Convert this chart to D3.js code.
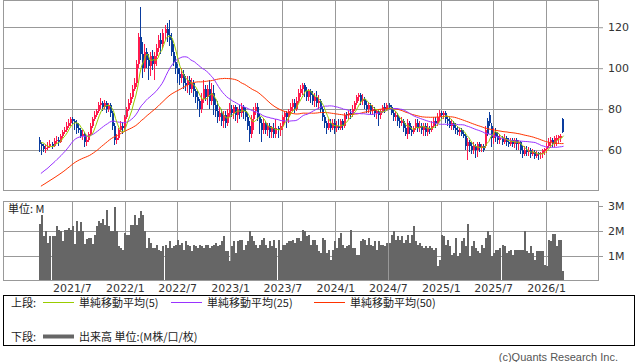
<!DOCTYPE html>
<html><head><meta charset="utf-8">
<script src="https://cdn.jsdelivr.net/npm/d3@7"></script>
<style>body{margin:0;background:#fff}svg{display:block}</style>
</head><body>
<svg id="c" width="638" height="362"></svg>
<script>
// ---- data (weekly candles, first week ending 2021-03-12) ----
const firstWeek = "2021-03-12";
// closes of the 49 weeks before the first candle (only used for moving averages)
const priorClose = [30,31,29,30,32,31,33,32,31,33,34,33,32,34,35,34,
  38,41,43,44,45,46,44,45,43,
  42,41,43,40,39,41,42,40,41,43,42,44,43,42,41,43,
  50,56,60,63,62,64,65,64];
const open = [65,63,62,60.5,61,62,63,62,64.5,65, 64,67,69,70,72,73,75,74,73,71,
 70,67,68,64,65,68,72,75,77,79, 82,83,81,83,80,82,78,72,65,66,
 70,72,71,76,80,83,86,90,93,102, 115,107,100,108,104,101,106,102,106,110,
 114,112,117,119,116,114,108,103,100,97, 95,97,93,92,94,90,93,89,86,84,
 80,85,90,86,90,84,88,82,79,76, 78,74,77,73,78,80,78,81,77,80,
 78,81,79,76,72,68,75,79,81,76, 73,70,73,70,72,69,71,68,71,70,
 72,76,78,76,79,81,83,80,84,88, 90,92,89,86,89,87,84,86,83,84,
 80,76,73,71,73,71,73,71,72,71, 74,72,77.5,77,78,77,80,83,86,87,
 84,85,82,80,82,79,80,78,79,77, 79,81,80,82,81,78,76,77,74,73,
 74,71,68,73,70,69,71,73,71,72, 70,72,69,71,70,72,74,73,76,78,
 77,78,75,74,72,73,71,70,69,70, 68,67,62,64,62,60,62,60,63,61,
 62,62,74,77,72,66,69,67,65,66, 64,66,64,63,65,63,65,63,64,60,
 58,60,59,60,58,59,57,58.5,58,58.5, 59.5,60.5,62,64,65,63,65,66,66,75];
const high = [66.5,64,63,62.5,64,65,64,66,67,66.5, 68,70,71.5,73.5,75,76,76,75,74.6,73,
 71,70,69,67,69,73,76,79,80,83.5, 85.4,84,84.5,84,83,83,79,73,68,71,
 74,73.5,77,81,85,88,92,95,104,117, 130,113,112,110,107,108,109,108,112,116,
 117,119,121,122,123.4,117,112,106,102,100, 100,99,96,96,96,95,94,90,89,85,
 88,94,92,92,94,93,92,85,84,81, 80,79,79,80,83,82,82,82,81,82,
 83,82,81,78,74,77,81,83,83,78, 75,75,74,73,73,72,73,75,72,73,
 77,79,79,80,83,85,85,86,90,92, 93,93,91,90,90,89,88,89,87,85,
 81,77,74,75,75,75,75,74,75,75, 75,78,78.5,79,80,82,84,87,88,88,
 87.5,86,84,83,83,82,81,80,80,80, 82,83,83,83,82,80,79,78,76,76,
 75,73,75,74,72,72,75,75,74,73, 73,73,73,72,74,76,76,78,79.5,79,
 79,79,76,76,75,74,73,72,71,71, 70,68,66,65,64,64,63,64,64,63,
 63,72,75.6,78.5,73,71,71,69,68,67, 68,67,66,66,66,66,66,65,64.5,62,
 62,62,61.5,61,60.5,60,59.5,59,59,60.5, 61,63.4,66,66.5,66,67,67.5,67.5,68,75.8];
const low = [59,57.6,59,58.5,60,61,60.5,61.5,63,62, 63.5,66,68,69,71,72,72.5,70,68,68.5,
 66,65,61.5,62,64,67,71,74,76,78, 80,79,80,78,78.5,76,70,62.4,63,65,
 69,68,70,75,79,82,85,89,91,100, 104,95,98,100,94,96,99,94,101,108,
 107,110,114,113,111,106,101,97,93,92, 93,90,89,88,87,88,86,83,80,76,
 78,83,84,82,80,82,77,76,73,74, 72,71,71,72,76,76,75,74,73,75,
 76,75,74,70,64,66,70,77,74,68, 64,68,68,67,66,66,66,66,66,67,
 70,73,71,73,77,79,78,79,83,86, 87,86,84,84,83,82,81,81,80,78,
 74,71,68,70,69,70,68,69,70,70, 70,71,75,75,75,76,79,82,84,82,
 82,80,78,78,77,77,76,75,72,75, 78,78,79,80,77,74,74,72,71,72,
 69,67,65.5,68,67,68,70,69,69,68, 67,67,67,68,69,71,71,72,74,75,
 75,73,72,71,70,70,68,67.5,67,67, 66,60,55,59,58,58,56,56.6,59,59,
 59,61,67,72,61.5,63,64,63,63,62.4, 63,62,61.5,62,61.5,61,60,60,58,56,
 57,57,57,56,57,55.5,56,55,55.5,56, 57.6,58.5,61,61,61.5,61.5,62,63,64,68.5];
const close = [63,62,60.5,61,62,63,62,64.5,65,64, 67,69,70,72,73,75,74,73,71,70,
 67,68,64,65,68,72,75,77,79,82, 83,81,83,80,82,78,72,65,66,70,
 72,71,76,80,83,86,90,93,102,115, 107,100,108,104,101,106,102,106,110,114,
 112,117,119,116,114,108,103,100,97,95, 97,93,92,94,90,93,89,86,84,80,
 85,90,86,90,84,88,82,79,76,78, 74,77,73,78,80,78,81,77,80,78,
 81,79,76,72,68,75,79,81,76,73, 70,73,70,72,69,71,68,71,70,72,
 76,78,76,79,81,83,80,84,88,90, 92,89,86,89,87,84,86,83,84,80,
 76,73,71,73,71,73,71,72,71,74, 72,77,77,78,77,80,83,86,87,84,
 85,82,80,82,79,80,78,79,77,79, 81,80,82,81,78,76,77,74,73,74,
 71,68,73,70,69,71,73,71,72,70, 72,69,71,70,72,74,73,76,78,77,
 78,75,74,72,73,71,70,69,70,68, 67,62,64,62,60,62,60,63,61,62,
 60,70,68,73,66,69,67,65,66,64, 66,64,63,65,63,65,63,64,60,58,
 60,59,60,58,59,57,58,58,58.5,60, 60.5,62,64,65,63,66,66,67,67,69];
const volume = [2.28,2.65,1.79,2.0,1.52,1.79,1.79,1.79,2.19,2.05,
 2.0,1.59,2.05,2.05,2.12,2.05,2.19,1.48,2.39,2.0,
 2.36,2.0,1.48,1.69,1.72,1.72,1.48,1.85,2.19,2.39,
 2.32,2.48,2.25,2.84,2.19,2.0,2.0,2.95,2.0,1.39,
 1.32,1.25,1.92,1.85,1.85,2.25,2.25,2.65,2.25,2.52,
 2.79,2.65,2.0,1.32,1.72,1.52,1.32,1.32,1.45,1.25,
 1.19,1.39,1.45,1.32,1.59,1.32,1.39,1.45,1.65,1.45,
 1.52,1.25,1.59,1.45,1.39,1.19,1.45,1.39,1.32,1.45,
 1.39,1.32,1.45,1.45,1.32,1.39,1.45,1.52,1.39,1.45,
 1.59,1.79,1.19,1.19,0.79,1.39,1.59,1.12,1.59,1.65,
 1.65,1.25,1.45,1.59,2.0,1.79,1.59,1.45,1.32,1.45,
 1.65,1.72,1.45,1.32,1.59,1.39,1.65,1.32,1.65,1.25,
 1.45,1.45,1.52,1.59,1.59,1.65,1.52,1.72,1.72,1.59,
 2.05,2.0,1.79,1.85,1.45,1.65,1.65,1.45,1.19,1.12,
 1.72,1.65,1.12,1.25,0.85,1.25,1.59,1.32,1.72,1.92,
 1.45,1.32,1.39,1.45,2.05,1.32,1.32,1.05,1.05,1.59,
 1.69,1.65,1.45,1.72,1.45,1.39,1.59,1.25,1.59,1.45,
 1.45,1.39,1.52,1.52,1.85,2.0,1.65,1.79,1.65,1.79,
 1.52,1.65,1.85,1.52,1.85,2.19,1.59,1.45,1.52,1.39,
 1.32,1.39,1.32,1.39,1.32,1.25,1.32,0.59,0.85,1.85,
 1.79,1.45,1.65,1.39,1.05,1.12,1.72,0.99,1.12,1.59,
 1.72,1.39,2.28,0.99,1.39,1.59,1.32,1.19,1.12,1.45,
 1.32,1.72,2.0,1.85,0.99,1.12,1.25,1.25,1.32,1.45,
 1.39,1.12,1.19,1.25,1.05,1.25,1.25,1.25,1.25,1.25,
 2.0,1.19,1.12,1.39,1.12,0.85,1.19,1.19,1.19,1.19,
 0.65,0.59,1.65,1.59,1.88,1.88,1.39,1.65,1.65,0.41];
const priceTicks = [60, 80, 100, 120];
const volumeTicks = [1, 2, 3];
const monthTicks = ["2021-07-01","2022-01-01","2022-07-01","2023-01-01","2023-07-01",
  "2024-01-01","2024-07-01","2025-01-01","2025-07-01","2026-01-01"];
const monthLabels = ["2021/7","2022/1","2022/7","2023/1","2023/7","2024/1","2024/7","2025/1","2025/7","2026/1"];
const maPeriods = [5, 25, 50];
const maColors = ["#99cc00", "#9933ff", "#ff3300"];
const legendTop = ["単純移動平均(5)", "単純移動平均(25)", "単純移動平均(50)"];

// ---- layout ----
const parse = d3.timeParse("%Y-%m-%d");
const svg = d3.select("#c");
const L = 3, R = 598, pT = 0, pB = 190, vT = 201, vB = 281;
const numFont = "'DejaVu Sans', Verdana, sans-serif";
const jpFont = "'Noto Sans CJK JP', sans-serif";

const x = d3.scaleTime().domain([parse("2020-11-04"), parse("2026-06-30")]).range([L, R]);
const y = d3.scaleLinear().domain([40.5, 133.3]).range([pB, pT]);
const yv = d3.scaleLinear().domain([0, 3.2]).range([vB, vT]);

const start = parse(firstWeek);
const dates = close.map((_, i) => d3.timeDay.offset(start, 7 * i));
const data = close.map((c, i) => ({d: dates[i], o: open[i], h: high[i], l: low[i], c, v: volume[i]}));

// grids
const g = svg.append("g").attr("stroke", "#999").attr("stroke-width", 1).attr("shape-rendering", "crispEdges");
monthTicks.forEach(t => {
  const xx = Math.round(x(parse(t))) + 0.5;
  g.append("line").attr("x1", xx).attr("x2", xx).attr("y1", pT).attr("y2", pB);
  g.append("line").attr("x1", xx).attr("x2", xx).attr("y1", vT).attr("y2", vB);
});
priceTicks.forEach(t => {
  const yy = Math.round(y(t)) + 0.5;
  g.append("line").attr("x1", L).attr("x2", R).attr("y1", yy).attr("y2", yy);
});
volumeTicks.filter(t => t < 3).forEach(t => {
  const yy = Math.round(yv(t)) + 0.5;
  g.append("line").attr("x1", L).attr("x2", R).attr("y1", yy).attr("y2", yy);
});

// volume bars
svg.append("g").selectAll("rect").data(data).join("rect")
  .attr("x", d => Math.floor(x(d.d)))
  .attr("width", 2)
  .attr("y", d => Math.round(yv(d.v)))
  .attr("height", d => vB - Math.round(yv(d.v)))
  .attr("fill", "#666")
  .attr("shape-rendering", "crispEdges");

// frames
svg.append("rect").attr("x", L + 0.5).attr("y", pT + 0.5).attr("width", R - L).attr("height", pB - pT)
  .attr("fill", "none").attr("stroke", "#999").attr("shape-rendering", "crispEdges");
svg.append("rect").attr("x", L + 0.5).attr("y", vT + 0.5).attr("width", R - L).attr("height", vB - vT - 1)
  .attr("fill", "none").attr("stroke", "#999").attr("shape-rendering", "crispEdges");

// candles
const up = "#ff1a4d", dn = "#0a3c9e";
const cg = svg.append("g").attr("shape-rendering", "crispEdges");
data.forEach(d => {
  const xx = Math.floor(x(d.d));
  const col = d.c >= d.o ? up : dn;
  cg.append("rect").attr("x", xx).attr("width", 1)
    .attr("y", y(d.h)).attr("height", Math.max(1, y(d.l) - y(d.h))).attr("fill", col);
  const top = y(Math.max(d.o, d.c)), bot = y(Math.min(d.o, d.c));
  cg.append("rect").attr("x", xx).attr("width", 2)
    .attr("y", top).attr("height", Math.max(1, bot - top)).attr("fill", col);
});

// moving averages
const full = priorClose.concat(close);
const off = priorClose.length;
maPeriods.slice().reverse().forEach((p, k) => {
  const idx = maPeriods.length - 1 - k;
  const ma = close.map((_, i) => d3.mean(full.slice(off + i - p + 1, off + i + 1)));
  const line = d3.line().x((_, i) => x(dates[i]) + 1).y(v => y(v));
  svg.append("path").attr("d", line(ma)).attr("fill", "none")
    .attr("stroke", maColors[idx]).attr("stroke-width", 1);
});

// axes
const ax = svg.append("g").attr("transform", `translate(0,${vB})`)
  .call(d3.axisBottom(x).tickValues(monthTicks.map(parse)).tickFormat((d, i) => monthLabels[i]).tickSize(0).tickPadding(3));
ax.select(".domain").remove();
ax.selectAll("text").attr("font-family", numFont).attr("font-size", 11).attr("fill", "#333");

const ay = svg.append("g").attr("transform", `translate(${R},0)`)
  .call(d3.axisRight(y).tickValues(priceTicks).tickSize(5).tickPadding(5));
const av = svg.append("g").attr("transform", `translate(${R},0)`)
  .call(d3.axisRight(yv).tickValues(volumeTicks).tickFormat(d => d + "M").tickSize(5).tickPadding(5));
[ay, av].forEach(a => {
  a.select(".domain").remove();
  a.selectAll("line").attr("stroke", "#999");
  a.selectAll("text").attr("font-family", numFont).attr("font-size", 11).attr("fill", "#333");
});

svg.append("text").attr("x", 8).attr("y", 213).text("単位: M")
  .attr("font-family", jpFont).attr("font-size", 11).attr("fill", "#222");

// legend
svg.append("rect").attr("x", 3.5).attr("y", 295.5).attr("width", 631).attr("height", 50)
  .attr("fill", "none").attr("stroke", "#000").attr("shape-rendering", "crispEdges");
const lg = svg.append("g").attr("font-family", jpFont).attr("font-size", 11).attr("fill", "#222");
lg.append("text").attr("x", 11).attr("y", 307).text("上段:");
const lx = [43, 171, 314];
legendTop.forEach((t, i) => {
  lg.append("line").attr("x1", lx[i]).attr("x2", lx[i] + 31).attr("y1", 302.5).attr("y2", 302.5)
    .attr("stroke", maColors[i]).attr("stroke-width", 1);
  lg.append("text").attr("x", lx[i] + 36).attr("y", 307).text(t);
});
lg.append("text").attr("x", 11).attr("y", 341).text("下段:");
lg.append("line").attr("x1", 43).attr("x2", 74).attr("y1", 336.5).attr("y2", 336.5)
  .attr("stroke", "#666").attr("stroke-width", 4);
lg.append("text").attr("x", 79).attr("y", 341).text("出来高 単位:(M株/口/枚)");

svg.append("text").attr("x", 618).attr("y", 361).attr("text-anchor", "end")
  .text("(c)Quants Research Inc.").attr("font-family", "'Liberation Sans', Arial, sans-serif")
  .attr("font-size", 11).attr("fill", "#555");
</script>
</body></html>
